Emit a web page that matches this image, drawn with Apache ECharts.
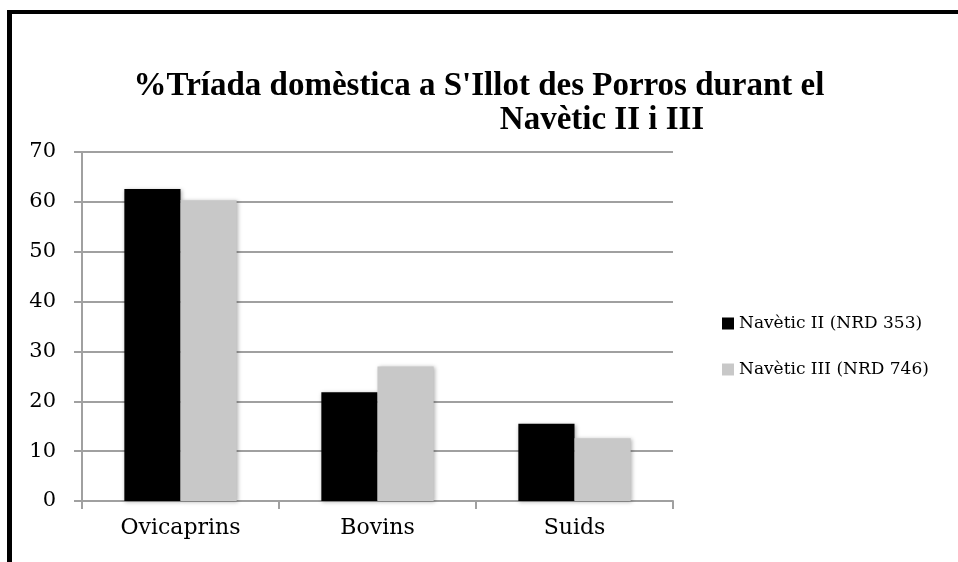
<!DOCTYPE html>
<html>
<head>
<meta charset="utf-8">
<script src="https://cdn.jsdelivr.net/npm/echarts@6/dist/echarts.min.js"></script>
<style>
  html, body { margin: 0; padding: 0; background: #fff; }
  #chart { width: 958px; height: 562px; }
</style>
</head>
<body>
<div id="chart"></div>
<script>
// Species groups on the category axis
const categories = ['Ovicaprins', 'Bovins', 'Suids'];
// Percentages per phase
const navetic2 = [62.6, 21.8, 15.5];
const navetic3 = [60.3, 27.0, 12.6];
const seriesNames = ['Navètic II (NRD 353)', 'Navètic III (NRD 746)'];
const titleLine1 = "%Tríada domèstica a S'Illot des Porros durant el";
const titleLine2 = 'Navètic II i III';

const serif = '"DejaVu Serif", serif';
const titleFont = '"Liberation Serif", serif';
const gridGrey = '#a0a0a0';

const barShadow = {
  shadowColor: 'rgba(0,0,0,0.3)',
  shadowBlur: 4,
  shadowOffsetX: 1,
  shadowOffsetY: 1
};

const chart = echarts.init(document.getElementById('chart'), null, { renderer: 'canvas' });

chart.setOption({
  backgroundColor: '#fff',
  animation: false,
  title: [
    {
      text: titleLine1,
      left: 'center',
      top: 65,
      textStyle: { fontFamily: titleFont, fontWeight: 'bold', fontSize: 33, color: '#000' }
    },
    {
      text: titleLine2,
      left: 597,
      textAlign: 'center',
      top: 99,
      textStyle: { fontFamily: titleFont, fontWeight: 'bold', fontSize: 33, color: '#000' }
    }
  ],
  graphic: [
    { type: 'line', shape: { x1: 9.5, y1: 10, x2: 9.5, y2: 562 }, style: { stroke: '#000', lineWidth: 5 } },
    { type: 'line', shape: { x1: 7, y1: 12, x2: 958, y2: 12 }, style: { stroke: '#000', lineWidth: 4 } }
  ],
  legend: {
    orient: 'vertical',
    left: 717,
    top: 310,
    itemWidth: 12,
    itemHeight: 12,
    itemGap: 29,
    icon: 'rect',
    textStyle: { fontFamily: serif, fontSize: 17, color: '#000' },
    data: seriesNames
  },
  grid: { left: 82, right: 285, top: 152, bottom: 61, containLabel: false },
  xAxis: {
    type: 'category',
    data: categories,
    axisLine: { lineStyle: { color: gridGrey, width: 2 } },
    axisTick: { show: true, length: 8, lineStyle: { color: gridGrey, width: 2 } },
    axisLabel: { fontFamily: serif, fontSize: 22, color: '#000', margin: 16 }
  },
  yAxis: {
    type: 'value',
    min: 0,
    max: 70,
    interval: 10,
    axisLine: { show: true, lineStyle: { color: gridGrey, width: 2 } },
    axisTick: { show: true, length: 8, lineStyle: { color: gridGrey, width: 2 } },
    splitLine: { show: true, lineStyle: { color: gridGrey, width: 2 } },
    axisLabel: { fontFamily: serif, fontSize: 21, color: '#000', margin: 26 }
  },
  series: [
    {
      name: seriesNames[0],
      type: 'bar',
      data: navetic2,
      barGap: '0%',
      barCategoryGap: '43%',
      itemStyle: Object.assign({ color: '#000' }, barShadow)
    },
    {
      name: seriesNames[1],
      type: 'bar',
      data: navetic3,
      barGap: '0%',
      barCategoryGap: '43%',
      itemStyle: Object.assign({ color: '#c8c8c8' }, barShadow)
    }
  ]
});
</script>
</body>
</html>
